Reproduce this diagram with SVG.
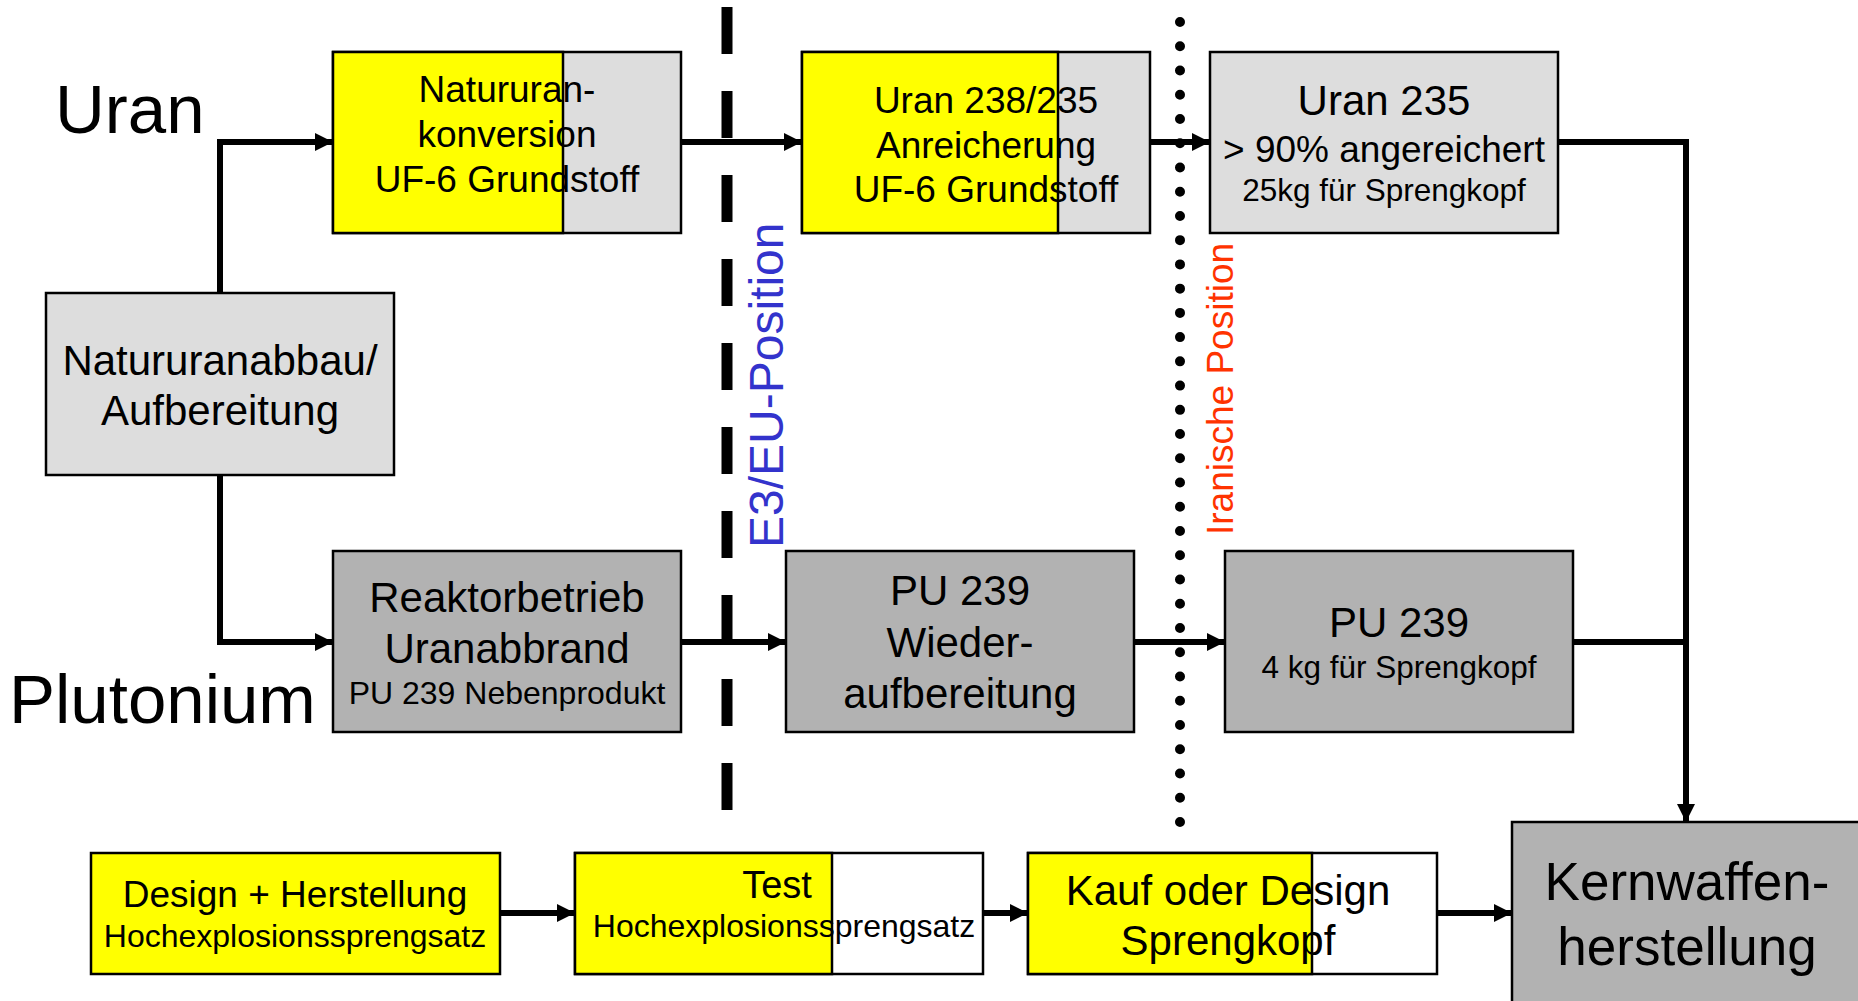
<svg xmlns="http://www.w3.org/2000/svg" width="1858" height="1001" viewBox="0 0 1858 1001">
<defs>
<marker id="arr" markerUnits="userSpaceOnUse" markerWidth="18" markerHeight="18" refX="18" refY="9" orient="auto">
<path d="M0,0 L18,9 L0,18 z" fill="#000"/>
</marker>
<style>
text{font-family:"Liberation Sans",Arial,sans-serif;fill:#000}
.c{text-anchor:middle}
.box{stroke:#000;stroke-width:2.5}
.lg{fill:#dddddd}
.dg{fill:#b2b2b2}
.ye{fill:#ffff00}
.wh{fill:#ffffff}
.con{fill:none;stroke:#000;stroke-width:6;stroke-linejoin:miter}
.arr{marker-end:url(#arr)}
</style>
</defs>
<rect width="1858" height="1001" fill="#fff"/>

<text x="55" y="133" font-size="69">Uran</text>
<text x="9" y="723" font-size="69">Plutonium</text>

<g id="connectors">
<path class="con arr" d="M220,293 V142 H333"/>
<path class="con arr" d="M220,475 V642 H333"/>
<path class="con arr" d="M681,142 H802"/>
<path class="con arr" d="M1150,142 H1210"/>
<path class="con arr" d="M1558,142 H1686 V822"/>
<path class="con arr" d="M681,642 H786"/>
<path class="con arr" d="M1134,642 H1225"/>
<path class="con" d="M1573,642 H1686"/>
<path class="con arr" d="M500,913 H575"/>
<path class="con arr" d="M983,913 H1028"/>
<path class="con arr" d="M1437,913 H1512"/>
</g>

<g id="abbau">
<rect class="box lg" x="46" y="293" width="348" height="182"/>
<text class="c" x="220" y="375" font-size="42">Natururanabbau/</text>
<text class="c" x="220" y="425" font-size="42">Aufbereitung</text>
</g>

<g id="konversion">
<rect class="box lg" x="333" y="52" width="348" height="181"/>
<rect class="box ye" x="333" y="52" width="230" height="181"/>
<text class="c" x="507" y="102" font-size="37">Natururan-</text>
<text class="c" x="507" y="147" font-size="37">konversion</text>
<text class="c" x="507" y="192" font-size="37">UF-6 Grundstoff</text>
</g>

<g id="anreicherung">
<rect class="box lg" x="802" y="52" width="348" height="181"/>
<rect class="box ye" x="802" y="52" width="256" height="181"/>
<text class="c" x="986" y="113" font-size="37">Uran 238/235</text>
<text class="c" x="986" y="158" font-size="37">Anreicherung</text>
<text class="c" x="986" y="202" font-size="37">UF-6 Grundstoff</text>
</g>

<g id="uran235">
<rect class="box lg" x="1210" y="52" width="348" height="181"/>
<text class="c" x="1384" y="115" font-size="42">Uran 235</text>
<text class="c" x="1384" y="162" font-size="37">&gt; 90% angereichert</text>
<text class="c" x="1384" y="201" font-size="31.5">25kg für Sprengkopf</text>
</g>

<g id="reaktor">
<rect class="box dg" x="333" y="551" width="348" height="181"/>
<text class="c" x="507" y="612" font-size="42">Reaktorbetrieb</text>
<text class="c" x="507" y="663" font-size="42">Uranabbrand</text>
<text class="c" x="507" y="704" font-size="32">PU 239 Nebenprodukt</text>
</g>

<g id="wiederaufbereitung">
<rect class="box dg" x="786" y="551" width="348" height="181"/>
<text class="c" x="960" y="605" font-size="42">PU 239</text>
<text class="c" x="960" y="657" font-size="42">Wieder-</text>
<text class="c" x="960" y="708" font-size="42">aufbereitung</text>
</g>

<g id="pu239">
<rect class="box dg" x="1225" y="551" width="348" height="181"/>
<text class="c" x="1399" y="637" font-size="42">PU 239</text>
<text class="c" x="1399" y="678" font-size="31.5">4 kg für Sprengkopf</text>
</g>

<g id="design">
<rect class="box ye" x="91" y="853" width="409" height="121"/>
<text class="c" x="295" y="907" font-size="37">Design + Herstellung</text>
<text class="c" x="295" y="947" font-size="32">Hochexplosionssprengsatz</text>
</g>

<g id="test">
<rect class="box wh" x="575" y="853" width="408" height="121"/>
<rect class="box ye" x="575" y="853" width="257" height="121"/>
<text class="c" x="777" y="898" font-size="38">Test</text>
<text class="c" x="784" y="937" font-size="32">Hochexplosionssprengsatz</text>
</g>

<g id="kauf">
<rect class="box wh" x="1028" y="853" width="409" height="121"/>
<rect class="box ye" x="1028" y="853" width="284" height="121"/>
<text class="c" x="1228" y="905" font-size="42">Kauf oder Design</text>
<text class="c" x="1228" y="955" font-size="42">Sprengkopf</text>
</g>

<g id="kernwaffen">
<rect class="box dg" x="1512" y="822" width="360" height="200"/>
<text class="c" x="1687" y="900" font-size="53">Kernwaffen-</text>
<text class="c" x="1687" y="965" font-size="53">herstellung</text>
</g>

<g id="separators">
<line x1="727" y1="7" x2="727" y2="810" stroke="#000" stroke-width="11" stroke-dasharray="47 37"/>
<line x1="1180" y1="22" x2="1180" y2="823" stroke="#000" stroke-width="10" stroke-linecap="round" stroke-dasharray="0 24.24"/>
<text x="0" y="0" font-size="48" style="fill:#3333cc" transform="translate(783,548) rotate(-90)">E3/EU-Position</text>
<text x="0" y="0" font-size="37" style="fill:#ff3300" transform="translate(1233,535) rotate(-90)">Iranische Position</text>
</g>
</svg>
